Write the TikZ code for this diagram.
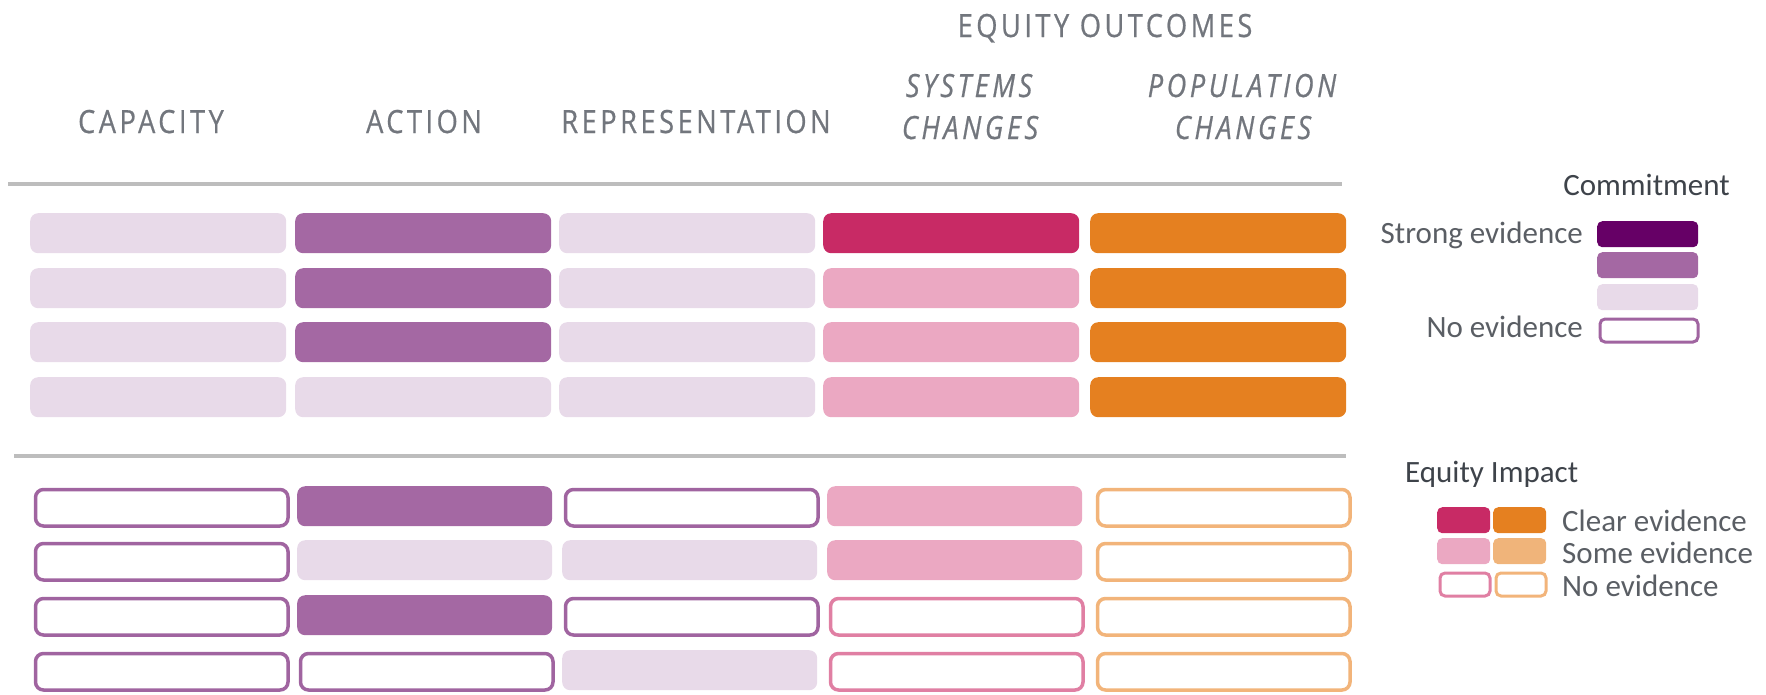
\documentclass[tikz,border=0pt]{standalone}
\usepackage{fontspec}
\setmainfont{Carlito}
\newfontfamily\hdr[LetterSpace=11,FakeStretch=0.85,FakeBold=0.6]{Open Sans}
\definecolor{hdrgray}{HTML}{72767D}
\definecolor{legdark}{HTML}{3E434A}
\definecolor{legtext}{HTML}{5A5E64}
\definecolor{rulegray}{HTML}{BDBDBD}
\definecolor{lightpurple}{HTML}{E8DAE9}
\definecolor{midpurple}{HTML}{A468A3}
\definecolor{darkpurple}{HTML}{660066}
\definecolor{magenta}{HTML}{C82A65}
\definecolor{lightpink}{HTML}{EBA8C2}
\definecolor{orange}{HTML}{E58020}
\definecolor{lightorange}{HTML}{F0B47A}
\definecolor{outpurple}{HTML}{A064A0}
\definecolor{outpink}{HTML}{E07FA3}
\definecolor{outorange}{HTML}{F2B47A}
\begin{document}
\begin{tikzpicture}[x=1pt,y=-1pt,
  cell/.style={rectangle, rounded corners=8pt, inner sep=0pt, anchor=north west,
    minimum width=256pt, minimum height=40pt},
  outl/.style={minimum width=252.5pt, minimum height=36.5pt, xshift=1.75pt, yshift=-1.75pt,
    line width=3.5pt, fill=white},
  cLP/.style={fill=lightpurple},
  cMP/.style={fill=midpurple},
  cDP/.style={fill=darkpurple},
  cMG/.style={fill=magenta},
  cPK/.style={fill=lightpink},
  cOG/.style={fill=orange},
  cLO/.style={fill=lightorange},
  cOP/.style={outl, draw=outpurple},
  cOPK/.style={outl, draw=outpink},
  cOO/.style={outl, draw=outorange},
  hdrtext/.style={anchor=base, inner sep=0pt, text=hdrgray, font=\hdr\fontsize{32}{38}\selectfont},
  hdrital/.style={hdrtext, font=\hdr\itshape\fontsize{32}{38}\selectfont},
  legtxt/.style={inner sep=0pt, text=legtext, font=\fontsize{31}{36}\selectfont},
  legtitle/.style={inner sep=0pt, text=legdark, font=\fontsize{31}{36}\selectfont},
  rulestyle/.style={draw=rulegray, line width=3.5pt},
  lcell/.style={rectangle, rounded corners=5pt, inner sep=0pt, anchor=north west,
    minimum width=101pt, minimum height=26pt},
  lout/.style={minimum width=98pt, minimum height=23pt, xshift=1.5pt, yshift=-1.5pt,
    line width=3pt, fill=white},
  ecell/.style={rectangle, rounded corners=5pt, inner sep=0pt, anchor=north west,
    minimum width=53pt, minimum height=26pt},
  eout/.style={minimum width=50pt, minimum height=23pt, xshift=1.5pt, yshift=-1.5pt,
    line width=3pt, fill=white}
]
\useasboundingbox (0,0) rectangle (1766,694);

% headers
\node[hdrtext] (hEq) at (1105,37) {EQUITY OUTCOMES};
\node[hdrtext] (hCap) at (151,133) {CAPACITY};
\node[hdrtext] (hAct) at (424,133) {ACTION};
\node[hdrtext] (hRep) at (696,133) {REPRESENTATION};
\node[hdrital] (hSys1) at (969,97) {SYSTEMS};
\node[hdrital] (hSys2) at (970,139) {CHANGES};
\node[hdrital] (hPop1) at (1242,97) {POPULATION};
\node[hdrital] (hPop2) at (1243,139) {CHANGES};

% rules
\coordinate (r1a) at (8,184);
\coordinate (r1b) at (1342,184);
\coordinate (r2a) at (14,456);
\coordinate (r2b) at (1346,456);
\draw[rulestyle] (r1a) -- (r1b);
\draw[rulestyle] (r2a) -- (r2b);

% top grid (commitment)
\foreach \r/\y/\a/\b/\c/\d/\e in {1/213/cLP/cMP/cLP/cMG/cOG,
                                  2/268/cLP/cMP/cLP/cPK/cOG,
                                  3/322/cLP/cMP/cLP/cPK/cOG,
                                  4/377/cLP/cLP/cLP/cPK/cOG}{
  \foreach \col/\x/\s in {1/30/\a,2/295/\b,3/559/\c,4/823/\d,5/1090/\e}{
    \node[cell,\s] (t\r\col) at (\x,\y) {};
  }
}

% bottom grid (equity impact)
\foreach \r/\y/\a/\b/\c/\d/\e in {1/486/cOP/cMP/cOP/cPK/cOO,
                                  2/540/cOP/cLP/cLP/cPK/cOO,
                                  3/595/cOP/cMP/cOP/cOPK/cOO,
                                  4/650/cOP/cOP/cLP/cOPK/cOO}{
  \foreach \col/\x/\s in {1/32/\a,2/297/\b,3/562/\c,4/827/\d,5/1094/\e}{
    \node[cell,minimum width=255pt,minimum height=40pt,\s] (b\r\col) at (\x,\y) {};
  }
}

% commitment legend
\node[legtitle, anchor=base east] (lCom) at (1730,195) {Commitment};
\node[lcell, fill=darkpurple] (lc1) at (1597,221) {};
\node[lcell, fill=midpurple] (lc2) at (1597,252) {};
\node[lcell, fill=lightpurple] (lc3) at (1597,284) {};
\node[lcell, lout, draw=outpurple] (lc4) at (1597,316) {};
\node[legtxt, anchor=base east] (lStrong) at (1583,243) {Strong evidence};
\node[legtxt, anchor=base east] (lNo) at (1583,337) {No evidence};

% equity impact legend
\node[legtitle, anchor=base west] (lEq) at (1405,482) {Equity Impact};
\node[ecell, fill=magenta] (e11) at (1437,507) {};
\node[ecell, fill=orange] (e12) at (1493,507) {};
\node[ecell, fill=lightpink] (e21) at (1437,538) {};
\node[ecell, fill=lightorange] (e22) at (1493,538) {};
\node[ecell, eout, draw=outpink] (e31) at (1437,570) {};
\node[ecell, eout, draw=outorange] (e32) at (1493,570) {};
\node[legtxt, anchor=base west] (eClear) at (1562,531) {Clear evidence};
\node[legtxt, anchor=base west] (eSome) at (1562,563) {Some evidence};
\node[legtxt, anchor=base west] (eNo) at (1562,596) {No evidence};
\end{tikzpicture}
\end{document}
